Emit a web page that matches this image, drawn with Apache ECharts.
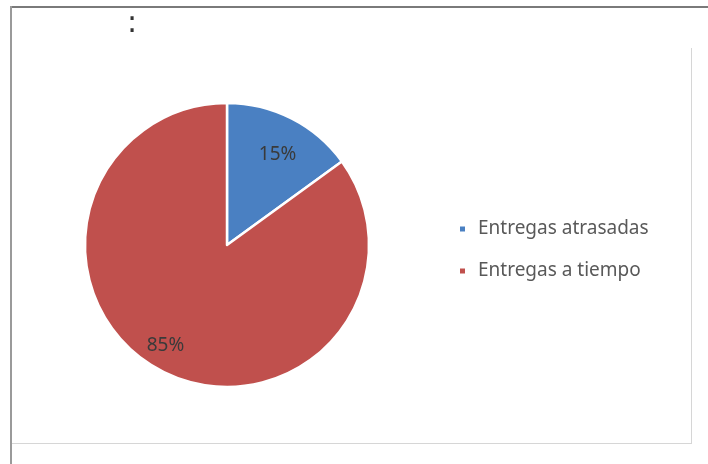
<!DOCTYPE html>
<html>
<head>
<meta charset="utf-8">
<script src="https://cdn.jsdelivr.net/npm/echarts@6/dist/echarts.min.js"></script>
<style>
html,body{margin:0;padding:0;background:#fff;}
#chart{width:708px;height:464px;}
</style>
</head>
<body>
<div id="chart"></div>
<script>
const categories = ['Entregas atrasadas', 'Entregas a tiempo'];
const values = [15, 85];
const colors = ['#4a80c2', '#c0504d'];

const labelShift = [[17, -24], [-28, 35]];

const chart = echarts.init(document.getElementById('chart'), null, {renderer: 'canvas'});
chart.setOption({
  animation: false,
  backgroundColor: '#ffffff',
  color: colors,
  legend: {
    orient: 'vertical',
    left: 458,
    top: 217,
    padding: 0,
    itemWidth: 7,
    itemHeight: 7,
    itemGap: 18,
    icon: 'rect',
    data: categories,
    textStyle: {
      fontFamily: 'Noto Sans',
      fontSize: 19,
      color: '#595959',
      lineHeight: 24,
      padding: [0, 0, 0, 7]
    }
  },
  graphic: [
    {type: 'line', shape: {x1: 10, y1: 7, x2: 708, y2: 7}, style: {stroke: '#7a7a7a', lineWidth: 2}},
    {type: 'line', shape: {x1: 11, y1: 6, x2: 11, y2: 464}, style: {stroke: '#9a9a9a', lineWidth: 2}},
    {type: 'line', shape: {x1: 12, y1: 443.5, x2: 692, y2: 443.5}, style: {stroke: '#d6d6d6', lineWidth: 1}},
    {type: 'line', shape: {x1: 691.5, y1: 48, x2: 691.5, y2: 443}, style: {stroke: '#d6d6d6', lineWidth: 1}},
    {type: 'text', left: 127, top: 9, style: {text: ':', font: '30px "DejaVu Sans"', fill: '#333'}}
  ],
  series: [{
    type: 'pie',
    center: [227, 245],
    radius: [0, 142],
    startAngle: 90,
    clockwise: true,
    itemStyle: {borderColor: '#ffffff', borderWidth: 2.5},
    label: {
      show: true,
      position: 'inside',
      formatter: '{d}%',
      fontFamily: 'Noto Sans',
      fontSize: 19,
      color: '#3a3a3a'
    },
    labelLine: {show: false},
    labelLayout: function (p) {
      const s = labelShift[p.dataIndex];
      return {dx: s[0], dy: s[1]};
    },
    emphasis: {disabled: true},
    data: categories.map(function (c, i) { return {name: c, value: values[i]}; })
  }]
});
</script>
</body>
</html>
